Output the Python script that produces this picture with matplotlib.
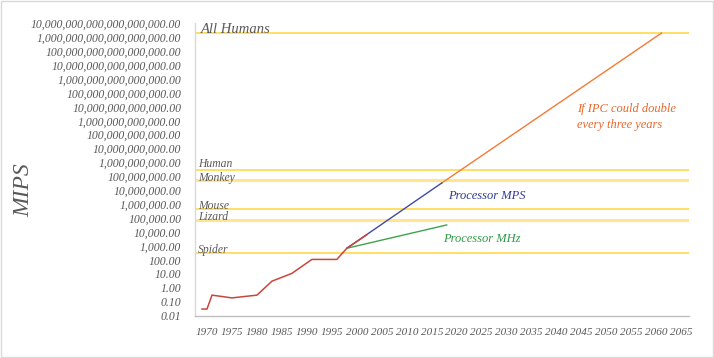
import matplotlib
matplotlib.use("Agg")
import matplotlib.pyplot as plt
from matplotlib.patches import Rectangle

# ---- data ----
hist_years = [1969, 1970, 1971, 1975, 1980, 1983, 1987, 1991, 1996, 1998, 2002]
hist_mips = [0.03, 0.03, 0.3, 0.19, 0.3, 3, 11, 110, 110, 700, 6500]

mps_years = [1998, 2017]
mps_vals = [700, 3.4e7]

ipc_years = [2017, 2061]
ipc_vals = [3.4e7, 2e18]

mhz_years = [1998, 2018]
mhz_vals = [700, 3.3e4]

ref_names = ["All Humans", "Human", "Monkey", "Mouse", "Lizard", "Spider"]
ref_vals = [2e18, 3e8, 6e7, 4.4e5, 7.5e4, 300]

x_ticks = list(range(1970, 2066, 5))
y_exps = list(range(-2, 20))

# ---- style ----
FONT = ["Liberation Serif", "DejaVu Serif"]
plt.rcParams["font.family"] = FONT
GRAY = "#595959"

fig = plt.figure(figsize=(7.14, 3.58), dpi=100)
ax = fig.add_axes([195 / 714, 1 - 315.7 / 358, 494.5 / 714, 292.4 / 358])

ax.set_yscale("log")
ax.set_ylim(1e-2, 1e19)
ax.set_xlim(1967.6, 2066.6)

# reference lines
label_off = {"Human": 1.5, "Monkey": 0.85}
for name, v in zip(ref_names, ref_vals):
    if name in ("Monkey", "Lizard"):
        ax.axhline(v, color="#FFE58F", lw=2.2, zorder=1)
    else:
        ax.axhline(v, color="#FFD94A", lw=1.2, zorder=1)
    size = 10.5 if name == "All Humans" else 8.4
    xpos = 1968.8 if name == "All Humans" else 1968.2
    off = label_off.get(name, 1.02)
    ax.text(xpos, v * off, name, fontsize=size, style="italic",
            color=GRAY, va="baseline", ha="left", zorder=5)

# series
ax.plot(ipc_years, ipc_vals, color="#F47A35", lw=1.0, zorder=2)
ax.plot(mps_years, mps_vals, color="#3E4BA6", lw=1.0, zorder=3)
ax.plot(mhz_years, mhz_vals, color="#3FA24E", lw=1.0, zorder=3)
ax.plot(hist_years, hist_mips, color="#C9463A", lw=1.1, zorder=4)

# annotations
ax.text((577 - 195) / 494.5, (315.7 - 103) / 292.4,
        "If IPC could double\nevery three years", transform=ax.transAxes,
        fontsize=9, style="italic", color="#E8672B", va="top", ha="left",
        linespacing=1.45)
ax.text((448 - 195) / 494.5, (315.7 - 196) / 292.4, "Processor MPS",
        transform=ax.transAxes, fontsize=9, style="italic", color="#2F3B90",
        va="center", ha="left")
ax.text((443 - 195) / 494.5, (315.7 - 238.5) / 292.4, "Processor MHz",
        transform=ax.transAxes, fontsize=9, style="italic", color="#2E9B48",
        va="center", ha="left")

# axes formatting
ylabels = []
for e in y_exps:
    if e < 0:
        ylabels.append("0." + "0" * (-e - 1) + "1" + ("0" if e == -1 else ""))
    else:
        ylabels.append(f"{10 ** e:,}.00")
ax.set_yticks([10.0 ** e for e in y_exps], labels=ylabels,
              fontstyle="italic", fontsize=8.5, color=GRAY)
ax.minorticks_off()
ax.set_xticks(x_ticks, labels=[str(x) for x in x_ticks],
              fontstyle="italic", fontsize=8, color=GRAY)
ax.tick_params(axis="y", length=0, pad=10)
ax.tick_params(axis="x", length=0, pad=9)

for s in ("top", "right"):
    ax.spines[s].set_visible(False)
ax.spines["left"].set_color("#D9D9D9")
ax.spines["bottom"].set_color("#BFBFBF")
ax.spines["left"].set_linewidth(1.0)
ax.spines["bottom"].set_linewidth(1.0)

fig.text(24 / 714, 1 - 190 / 358, "MIPS", rotation=90, fontsize=17,
         style="italic", color=GRAY, ha="center", va="center")

fig.patches.append(Rectangle((0.001, 0.002), 0.997, 0.995, transform=fig.transFigure,
                             fill=False, edgecolor="#D9D9D9", lw=1.0))

fig.savefig("out.png", dpi=100)
